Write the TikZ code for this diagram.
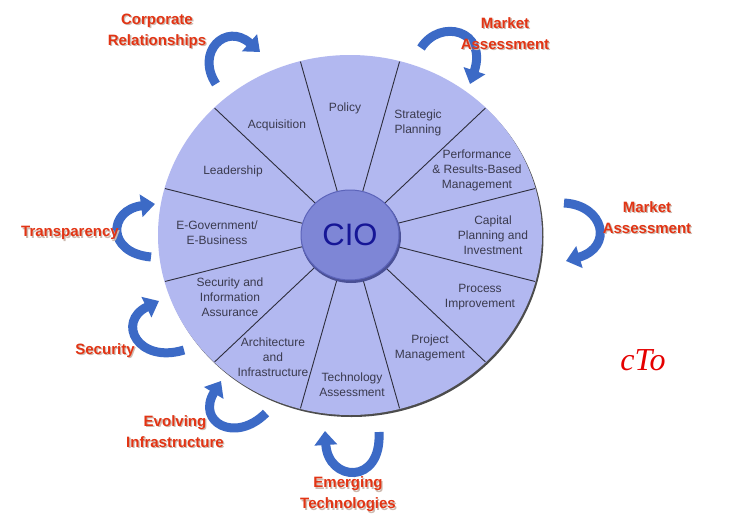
\documentclass[tikz,border=0pt]{standalone}
\usepackage{fontspec}
\setmainfont{Liberation Sans}
\newfontfamily\ctofont{Liberation Serif}
\usetikzlibrary{arrows.meta,shapes.geometric}
\definecolor{wheelc}{RGB}{178,184,240}
\definecolor{hubc}{RGB}{126,134,214}
\definecolor{hubedge}{RGB}{92,100,186}
\definecolor{spokec}{RGB}{45,45,60}
\definecolor{segtext}{RGB}{58,58,78}
\definecolor{ciotext}{RGB}{22,22,150}
\definecolor{outred}{RGB}{226,52,20}
\definecolor{shadc}{RGB}{205,185,175}
\definecolor{arrowc}{RGB}{60,106,198}
\newcommand\shd[1]{\leavevmode\rlap{\kern1.3pt\raisebox{-1.3pt}{\textcolor{shadc}{#1}}}#1}
\begin{document}
\begin{tikzpicture}[x=1pt,y=-1pt,
  seg/.style={font=\fontsize{12}{15}\selectfont, text=segtext, align=center, inner sep=0pt},
  outlbl/.style={font=\fontsize{15}{21}\selectfont\bfseries, text=outred, align=center, inner sep=0pt},
  ribbon/.style={draw=arrowc, line width=9pt, -{Triangle[width=22pt,length=14pt]}}]
\useasboundingbox (0,0) rectangle (750,520);
\fill[white] (0,0) rectangle (750,520);

% wheel with shadow rim
\fill[black!70] (351.5,237) ellipse [x radius=192pt, y radius=180pt];
\fill[wheelc] (350,235) ellipse [x radius=192pt, y radius=180pt];

% spokes
\foreach \a in {15,45,...,345}{
  \draw[spokec, line width=0.9pt] ({350+48*cos(\a)},{235-44*sin(\a)}) -- ({350+191.5*cos(\a)},{235-179.5*sin(\a)});
}

% hub
\fill[hubedge!80!black] (351,237) ellipse [x radius=50pt, y radius=46pt];
\node[ellipse, minimum width=98pt, minimum height=90pt, inner sep=0pt,
      fill=hubc, draw=hubedge, line width=1pt,
      font=\fontsize{31}{31}\selectfont, text=ciotext] (hub) at (350,235) {CIO};

% segment labels
\node[seg] (policy) at (345,108) {Policy};
\node[seg] (strat) at (418,123) {Strategic\\Planning};
\node[seg] (perf) at (477,170) {Performance\\\& Results-Based\\Management};
\node[seg] (capital) at (493,235) {Capital\\Planning and\\Investment};
\node[seg] (process) at (480,297) {Process\\Improvement};
\node[seg] (project) at (430,348) {Project\\Management};
\node[seg] (tech) at (352,385) {Technology\\Assessment};
\node[seg] (arch) at (273,357) {Architecture\\and\\Infrastructure};
\node[seg] (secinfo) at (230,297) {Security and\\Information\\Assurance};
\node[seg] (egov) at (217,233) {E-Government/\\E-Business};
\node[seg] (lead) at (233,171) {Leadership};
\node[seg] (acq) at (277,125) {Acquisition};

% curved arrows
\coordinate (c1a) at (216,84);  \coordinate (c1b) at (260,52);
\draw[ribbon] (c1a) .. controls (195,52) and (226,22) .. (c1b);
\coordinate (c2a) at (421,48);  \coordinate (c2b) at (470,84);
\draw[ribbon] (c2a) .. controls (440,18) and (488,30) .. (c2b);
\coordinate (c3a) at (564,203); \coordinate (c3b) at (566,261);
\draw[ribbon] (c3a) .. controls (604,205) and (614,247) .. (c3b);
\coordinate (c4a) at (151,257); \coordinate (c4b) at (155,204);
\draw[ribbon] (c4a) .. controls (106,253) and (108,210) .. (c4b);
\coordinate (c5a) at (184,350); \coordinate (c5b) at (159,301);
\draw[ribbon] (c5a) .. controls (138,364) and (116,322) .. (c5b);
\coordinate (c6a) at (266,413); \coordinate (c6b) at (221,381);
\draw[ribbon] (c6a) .. controls (235,444) and (196,422) .. (c6b);
\coordinate (c7a) at (379,432); \coordinate (c7b) at (325,431);
\draw[ribbon] (c7a) .. controls (382,486) and (328,482) .. (c7b);

% outer labels
\node[outlbl] (corp) at (157,32) {\shd{Corporate}\\\shd{Relationships}};
\node[outlbl] (mkt1) at (505,34) {\shd{Market}\\\shd{Assessment}};
\node[outlbl] (mkt2) at (647,218) {\shd{Market}\\\shd{Assessment}};
\node[outlbl] (transp) at (70,234) {\shd{Transparency}};
\node[outlbl] (secur) at (105,351) {\shd{Security}};
\node[outlbl] (evolv) at (175,432) {\shd{Evolving}\\\shd{Infrastructure}};
\node[outlbl] (emerg) at (348,495) {\shd{Emerging}\\\shd{Technologies}};

\node[font=\fontsize{32}{32}\selectfont\ctofont\itshape, text=red!90!black, inner sep=0pt] (cto) at (643,360) {cTo};
\end{tikzpicture}
\end{document}
